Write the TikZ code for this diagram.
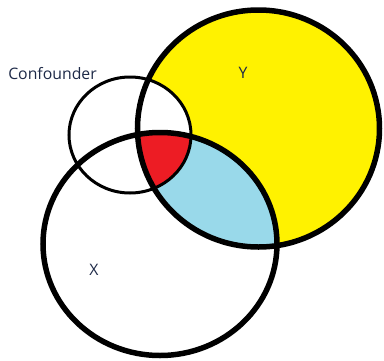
\documentclass[tikz,border=0pt]{standalone}
\usepackage{fontspec}
\setmainfont{Open Sans}
\definecolor{vyellow}{HTML}{FFF200}
\definecolor{vblue}{HTML}{99D9EA}
\definecolor{vred}{HTML}{ED1C24}
\definecolor{vtext}{HTML}{1E2A48}
\begin{document}
\begin{tikzpicture}[x=1pt,y=-1pt,
  lbl/.style={text=vtext,font=\fontsize{15.8}{18}\selectfont,inner sep=0pt},
  thickline/.style={draw=black,line width=5.5pt},
  thinline/.style={draw=black,line width=3pt}]
\useasboundingbox (0,0) rectangle (384,360);
\def\Ypath{(258.5,128.5) ellipse [x radius=121, y radius=118.5]}
\def\Xpath{(160,244) ellipse [x radius=117, y radius=111.5]}
\def\Cpath{(130,135) ellipse [x radius=61, y radius=58]}
% regions
\fill[vyellow] \Ypath;
\begin{scope}
  \clip \Xpath;
  \fill[vblue] \Ypath;
\end{scope}
\begin{scope}
  \clip \Cpath;
  \fill[white] \Ypath;
  \clip \Xpath;
  \fill[vred] \Ypath;
\end{scope}
% outlines
\draw[thinline] \Cpath;
\draw[thickline] \Ypath;
\draw[thickline] \Xpath;
% labels
\node[lbl] (conf) at (52.5,74) {Confounder};
\node[lbl] (y) at (243,73) {Y};
\node[lbl] (x) at (94,270) {X};
\end{tikzpicture}
\end{document}
